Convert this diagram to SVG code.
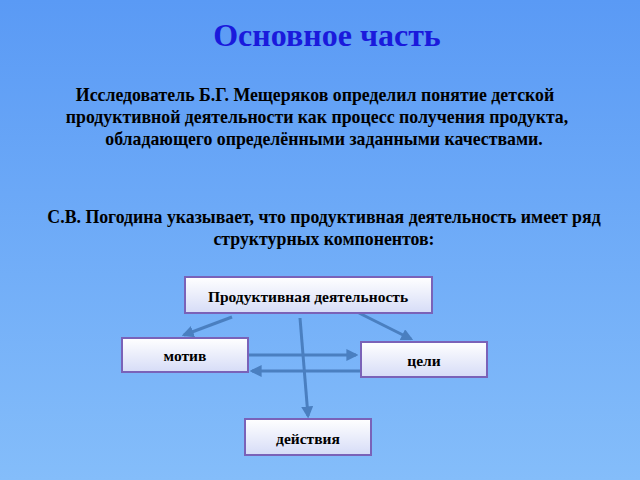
<svg xmlns="http://www.w3.org/2000/svg" width="640" height="480" viewBox="0 0 640 480">
<defs>
<linearGradient id="bg" x1="0" y1="0" x2="0" y2="1"><stop offset="0" stop-color="#5a9af5"/><stop offset="1" stop-color="#84bdfa"/></linearGradient>
<linearGradient id="box" x1="0" y1="0" x2="0" y2="1"><stop offset="0" stop-color="#ffffff"/><stop offset="1" stop-color="#d6dcf7"/></linearGradient>
<marker id="ah" viewBox="0 0 10 10" refX="8" refY="5" markerWidth="4" markerHeight="4" orient="auto"><path d="M0,0L10,5L0,10z" fill="#4a7fc0"/></marker>
</defs>
<style>
.b{fill:url(#box);stroke:#7a62b8;stroke-width:2}
.t{font-family:"Liberation Serif",serif;font-weight:bold;fill:#000;text-anchor:middle}
.c{stroke:#4a7fc0;stroke-width:3;fill:none;marker-end:url(#ah)}
</style>
<rect width="640" height="480" fill="url(#bg)"/>
<text x="327" y="46" class="t" style="font-size:32px;fill:#1a1adc">Основное часть</text>
<text class="t" style="font-size:17.8px"><tspan x="315" y="101">Исследователь Б.Г. Мещеряков определил понятие детской</tspan><tspan x="317" y="123">продуктивной деятельности как процесс получения продукта,</tspan><tspan x="324" y="145">обладающего определёнными заданными качествами.</tspan></text>
<text class="t" style="font-size:17.8px"><tspan x="324" y="223">С.В. Погодина указывает, что продуктивная деятельность имеет ряд</tspan><tspan x="324" y="245">структурных компонентов:</tspan></text>
<g id="connectors">
<line class="c" x1="232" y1="317" x2="184" y2="335"/>
<line class="c" x1="359" y1="313" x2="411" y2="339"/>
<line class="c" x1="300" y1="318" x2="308" y2="416"/>
<line class="c" x1="249" y1="355" x2="356" y2="355"/>
<line class="c" x1="360" y1="371" x2="252" y2="371"/>
</g>
<g id="n1"><rect class="b" x="185" y="277" width="247" height="36"/><text class="t" x="308" y="302" style="font-size:15.5px">Продуктивная деятельность</text></g>
<g id="n2"><rect class="b" x="122" y="338" width="126" height="34"/><text class="t" x="185" y="361" style="font-size:15.5px">мотив</text></g>
<g id="n3"><rect class="b" x="361" y="342" width="126" height="35"/><text class="t" x="424" y="366" style="font-size:15.5px">цели</text></g>
<g id="n4"><rect class="b" x="245" y="419" width="126" height="36"/><text class="t" x="308" y="444" style="font-size:15.5px">действия</text></g>
</svg>
